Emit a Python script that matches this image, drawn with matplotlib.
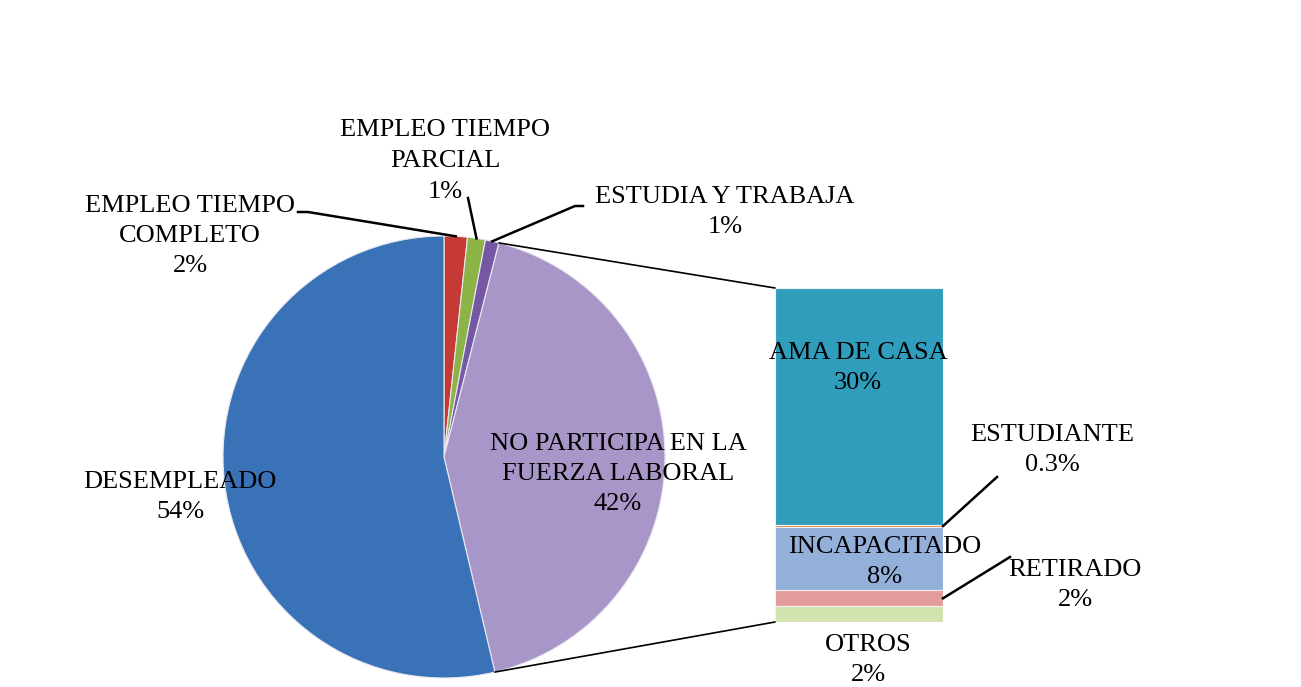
import numpy as np
import matplotlib
matplotlib.use('Agg')
import matplotlib.pyplot as plt
from matplotlib.patches import ConnectionPatch
from matplotlib.lines import Line2D

# Pie data (clockwise from 12 o'clock)
pie_labels = ["EMPLEO TIEMPO\nCOMPLETO", "EMPLEO TIEMPO\nPARCIAL", "ESTUDIA Y TRABAJA",
              "NO PARTICIPA EN LA\nFUERZA LABORAL", "DESEMPLEADO"]
pie_values = [1.7, 1.3, 1.0, 42.3, 53.7]
pie_pct = ["2%", "1%", "1%", "42%", "54%"]
pie_colors = ["#C63A36", "#8CB346", "#7557A3", "#A896C8", "#3A72B8"]

# Bar breakdown of "NO PARTICIPA" (top to bottom)
bar_labels = ["AMA DE CASA", "ESTUDIANTE", "INCAPACITADO", "RETIRADO", "OTROS"]
bar_values = [30.0, 0.3, 8.0, 2.0, 2.0]
bar_pct = ["30%", "0.3%", "8%", "2%", "2%"]
bar_colors = ["#2F9DBB", "#E2823A", "#94AFD9", "#E29C9B", "#D3E3B0"]

W, H = 1301, 687
FONT = dict(family="Liberation Serif", fontsize=19, color="black")

fig = plt.figure(figsize=(W / 100, H / 100), dpi=100)
fig.patch.set_facecolor("white")


def ff(x, y):
    """top-down pixel -> figure fraction"""
    return x / W, 1 - y / H


# ---- pie ----
cx, cy, r = 444, 457, 221
ax = fig.add_axes([(cx - r) / W, 1 - (cy + r) / H, 2 * r / W, 2 * r / H])
wedges, _ = ax.pie(pie_values, colors=pie_colors, startangle=90, counterclock=False,
                   radius=1, wedgeprops=dict(edgecolor="#E8E8F0", linewidth=0.8))
ax.set_xlim(-1, 1)
ax.set_ylim(-1, 1)
ax.axis("off")

# ---- bar ----
bx0, bx1, by0, by1 = 775, 943, 288, 622
axb = fig.add_axes([bx0 / W, 1 - by1 / H, (bx1 - bx0) / W, (by1 - by0) / H])
total_bar = sum(bar_values)
bottom = total_bar
for v, c in zip(bar_values, bar_colors):
    bottom -= v
    axb.bar(0.5, v, width=1.0, bottom=bottom, color=c, edgecolor="#F2F2F2", linewidth=0.8)
axb.set_xlim(0, 1)
axb.set_ylim(0, total_bar)
axb.axis("off")

# ---- connectors pie -> bar ----
frac = np.cumsum([0] + pie_values) / sum(pie_values)
a_top = np.deg2rad(90 - 360 * frac[3])
a_bot = np.deg2rad(90 - 360 * frac[4])
for ang, yb in [(a_top, total_bar), (a_bot, 0)]:
    con = ConnectionPatch(xyA=(np.cos(ang), np.sin(ang)), coordsA=ax.transData,
                          xyB=(0, yb), coordsB=axb.transData, color="black", lw=1.2)
    fig.add_artist(con)


def wedge_point(i):
    ang = np.deg2rad(90 - 360 * (frac[i] + frac[i + 1]) / 2)
    px, py = ax.transData.transform((np.cos(ang), np.sin(ang)))
    return px / W, py / H


def leader(points_px, end_ff):
    xs = [ff(*p)[0] for p in points_px] + [end_ff[0]]
    ys = [ff(*p)[1] for p in points_px] + [end_ff[1]]
    fig.add_artist(Line2D(xs, ys, transform=fig.transFigure, color="black", lw=1.8))


leader([(298, 212), (308, 212)], wedge_point(0))
leader([(468, 198)], wedge_point(1))
leader([(583, 206), (575, 206)], wedge_point(2))

# bar leaders
def bar_point(i):
    top = total_bar - sum(bar_values[:i])
    px, py = axb.transData.transform((1, top - bar_values[i] / 2))
    return px / W, py / H

leader([(997, 477)], bar_point(1))
leader([(1010, 557)], bar_point(3))

# ---- labels ----
pie_pos = [(190, 236), (445, 161), (725, 212), (618, 474), (180, 497)]
for lab, pct, (x, y) in zip(pie_labels, pie_pct, pie_pos):
    fig.text(*ff(x, y), f"{lab}\n{pct}", ha="center", va="center",
             multialignment="center", linespacing=1.5, **FONT)

bar_pos = [(858, 368), (1052, 450), (885, 562), (1075, 585), (868, 660)]
for lab, pct, (x, y) in zip(bar_labels, bar_pct, bar_pos):
    fig.text(*ff(x, y), f"{lab}\n{pct}", ha="center", va="center",
             multialignment="center", linespacing=1.5, **FONT)

fig.savefig("out.png", dpi=100, facecolor="white")
